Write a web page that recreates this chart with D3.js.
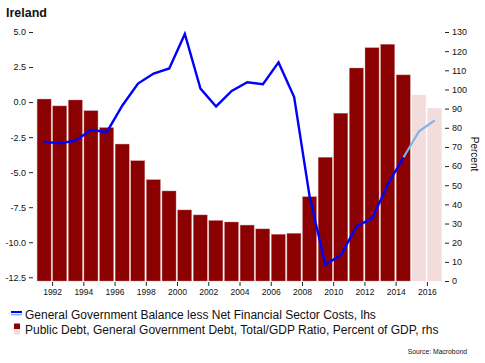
<!DOCTYPE html>
<html>
<head>
<meta charset="utf-8">
<script src="https://cdn.jsdelivr.net/npm/d3@7"></script>
<style>
  body{margin:0;background:#fff;}
  svg text{font-family:"Liberation Sans",Arial,sans-serif;fill:#111;}
  .axis path{display:none;}
  .axis line{stroke:#222;}
</style>
</head>
<body>
<div id="chart"></div>
<script>
// data
const years = [1991,1992,1993,1994,1995,1996,1997,1998,1999,2000,2001,2002,2003,2004,2005,2006,2007,2008,2009,2010,2011,2012,2013,2014,2015,2016];
const debt = [95,91.4,94.5,88.9,80.1,71.5,62.8,52.9,47.0,37.1,34.5,31.6,30.8,29.2,27.2,24.4,24.9,44.0,64.6,87.6,111.2,121.8,123.6,107.6,97.1,90.2];
const balance = [-2.84,-2.94,-2.75,-1.98,-2.15,-0.24,1.32,2.04,2.4,4.86,0.96,-0.31,0.79,1.41,1.27,2.83,0.36,-6.8,-11.6,-10.9,-8.85,-8.3,-5.86,-3.95,-2.08,-1.31];
const forecastFrom = 2015;
const leftTicks = [5,2.5,0,-2.5,-5,-7.5,-10,-12.5];
const rightTicks = [0,10,20,30,40,50,60,70,80,90,100,110,120,130];
const xTicks = [1992,1994,1996,1998,2000,2002,2004,2006,2008,2010,2012,2014,2016];
const legendLabels = ["General Government Balance less Net Financial Sector Costs, lhs",
                      "Public Debt, General Government Debt, Total/GDP Ratio, Percent of GDP, rhs"];

const W = 485, H = 363;
const svg = d3.select('#chart').append('svg').attr('width',W).attr('height',H);

const x = d3.scaleLinear().domain([1991,2017]).range([36.5,442.5]);
const yL = d3.scaleLinear().domain([-12.5,5]).range([277.3,32]);
const yR = d3.scaleLinear().domain([0,130]).range([281,32]);

const darkRed = '#8b0000', pink = '#f2dcdc', blue = '#0000ff', lightBlue = '#7fb3e8';

// title
svg.append('text').attr('x',6).attr('y',17).attr('font-size',12.5).attr('font-weight','bold').text('Ireland');

// bars
const rows = years.map((yr,i) => ({yr, debt:debt[i], bal:balance[i]}));
svg.append('g').selectAll('rect').data(rows).enter().append('rect')
   .attr('x', d => x(d.yr)+0.6)
   .attr('width', d => x(d.yr+1)-x(d.yr)-1.6)
   .attr('y', d => yR(d.debt))
   .attr('height', d => yR(0)-yR(d.debt))
   .attr('fill', d => d.yr>=forecastFrom ? pink : darkRed)
   .attr('stroke', d => d.yr>=forecastFrom ? '#f6e4e4' : '#c88a8a')
   .attr('stroke-width',0.4);

// line, solid part then forecast part
const line = d3.line().x(d => x(d.yr+0.5)).y(d => yL(d.bal));
svg.append('path').datum(rows.filter(d => d.yr>=forecastFrom-1))
   .attr('d',line).attr('fill','none').attr('stroke',lightBlue).attr('stroke-width',2.2);
svg.append('path').datum(rows.filter(d => d.yr<forecastFrom))
   .attr('d',line).attr('fill','none').attr('stroke',blue).attr('stroke-width',2.4).attr('stroke-linejoin','miter');

// axes
const fmt = d3.format('.1f');
svg.append('g').attr('class','axis').attr('transform','translate(33,0)')
   .call(d3.axisLeft(yL).tickValues(leftTicks).tickSize(4).tickPadding(3).tickFormat(d => fmt(d).replace('\u2212','-')))
   .selectAll('text').attr('font-size',9).attr('font-family',null);

svg.append('g').attr('class','axis').attr('transform','translate(445,0)')
   .call(d3.axisRight(yR).tickValues(rightTicks).tickSize(4).tickPadding(3))
   .selectAll('text').attr('font-size',9).attr('font-family',null);

svg.append('g').attr('class','axis').attr('transform','translate(0,282)')
   .call(d3.axisBottom(x).tickValues(xTicks).tickSize(4).tickPadding(3).tickFormat(d3.format('d')))
   .selectAll('text').attr('font-size',8.5).attr('font-family',null);

svg.append('text').attr('transform','translate(471,154) rotate(90)')
   .attr('text-anchor','middle').attr('font-size',10).text('Percent');

// legend
const lg = svg.append('g');
lg.append('line').attr('x1',11).attr('x2',22).attr('y1',312).attr('y2',312).attr('stroke',blue).attr('stroke-width',2);
lg.append('line').attr('x1',11).attr('x2',22).attr('y1',314.6).attr('y2',314.6).attr('stroke',lightBlue).attr('stroke-width',1.6);
lg.append('rect').attr('x',14).attr('y',323.5).attr('width',6).attr('height',5.5).attr('fill',darkRed);
lg.append('rect').attr('x',14).attr('y',329).attr('width',6).attr('height',5.5).attr('fill',pink);
lg.selectAll('text.lab').data(legendLabels).enter().append('text')
  .attr('x',25).attr('y',(d,i) => 318.5+i*15.5).attr('font-size',12).text(d => d);

svg.append('text').attr('x',467).attr('y',354).attr('text-anchor','end').attr('font-size',6.8).text('Source: Macrobond');
</script>
</body>
</html>
